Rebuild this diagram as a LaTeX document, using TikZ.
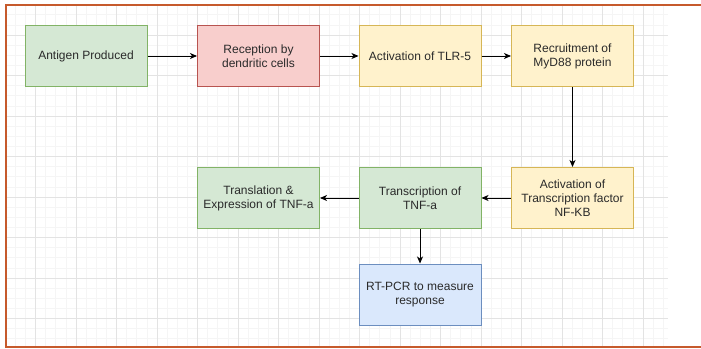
\documentclass[tikz,border=0pt]{standalone}
\usepackage{fontspec}
\setmainfont{Liberation Sans}
\usetikzlibrary{arrows.meta}

\definecolor{greenfill}{HTML}{D5E8D4}
\definecolor{greenline}{HTML}{82B366}
\definecolor{redfill}{HTML}{F8CECC}
\definecolor{redline}{HTML}{B85450}
\definecolor{yellowfill}{HTML}{FFF2CC}
\definecolor{yellowline}{HTML}{D6B656}
\definecolor{bluefill}{HTML}{DAE8FC}
\definecolor{blueline}{HTML}{6C8EBF}
\definecolor{framecol}{HTML}{C65A2C}
\definecolor{textcol}{HTML}{2A2A2A}

\begin{document}
\begin{tikzpicture}[x=1pt, y=-1pt,
      stepbox/.style={draw, line width=1pt, rectangle, minimum width=122pt,
        minimum height=61pt, align=center, text=textcol,
        font=\fontsize{12}{14}\selectfont},
      flow/.style={-{Stealth[length=7pt,width=6pt,inset=2pt]}, line width=0.9pt}
    ]
    \useasboundingbox (0,0) rectangle (701,348);
    
    % Background grid
    \foreach \j in {-3,...,62} {
      \draw[black!4, line width=0.6pt] ({35.5+10.125*\j},5) -- ({35.5+10.125*\j},347);
    }
    \foreach \j in {-2,...,30} {
      \draw[black!4, line width=0.6pt] (6,{35+10.125*\j}) -- (668,{35+10.125*\j});
    }
    \foreach \k in {0,...,15} {
      \draw[black!11, line width=0.8pt] ({35.5+40.5*\k},5) -- ({35.5+40.5*\k},347);
    }
    \foreach \k in {0,...,7} {
      \draw[black!11, line width=0.8pt] (6,{35+40.5*\k}) -- (668,{35+40.5*\k});
    }
    
    % Frame
    \draw[framecol, line width=2.4pt] (701,5) -- (6,5) -- (6,347) -- (701,347);
    
    % Steps
    \node[stepbox, fill=greenfill, draw=greenline] (antigen) at (86,56) {Antigen Produced};
    \node[stepbox, fill=redfill, draw=redline] (reception) at (258.5,56) {Reception by\\dendritic cells};
    \node[stepbox, fill=yellowfill, draw=yellowline] (tlr) at (420,56) {Activation of TLR-5};
    \node[stepbox, fill=yellowfill, draw=yellowline] (myd) at (572.5,56) {Recruitment of\\MyD88 protein};
    \node[stepbox, fill=yellowfill, draw=yellowline] (nfkb) at (572.5,198) {Activation of\\Transcription factor\\NF-KB};
    \node[stepbox, fill=greenfill, draw=greenline] (transcr) at (420,198) {Transcription of\\TNF-a};
    \node[stepbox, fill=greenfill, draw=greenline] (transl) at (258.5,198) {Translation \&\\Expression of TNF-a};
    \node[stepbox, fill=bluefill, draw=blueline] (pcr) at (420,294.5) {RT-PCR to measure\\response};
    
    % Connectors
    \draw[flow] (antigen) -- (reception);
    \draw[flow] (reception) -- (tlr);
    \draw[flow] (tlr) -- (myd);
    \draw[flow] (myd) -- (nfkb);
    \draw[flow] (nfkb) -- (transcr);
    \draw[flow] (transcr) -- (transl);
    \draw[flow] (transcr) -- (pcr);
    
    \end{tikzpicture}
\end{document}
